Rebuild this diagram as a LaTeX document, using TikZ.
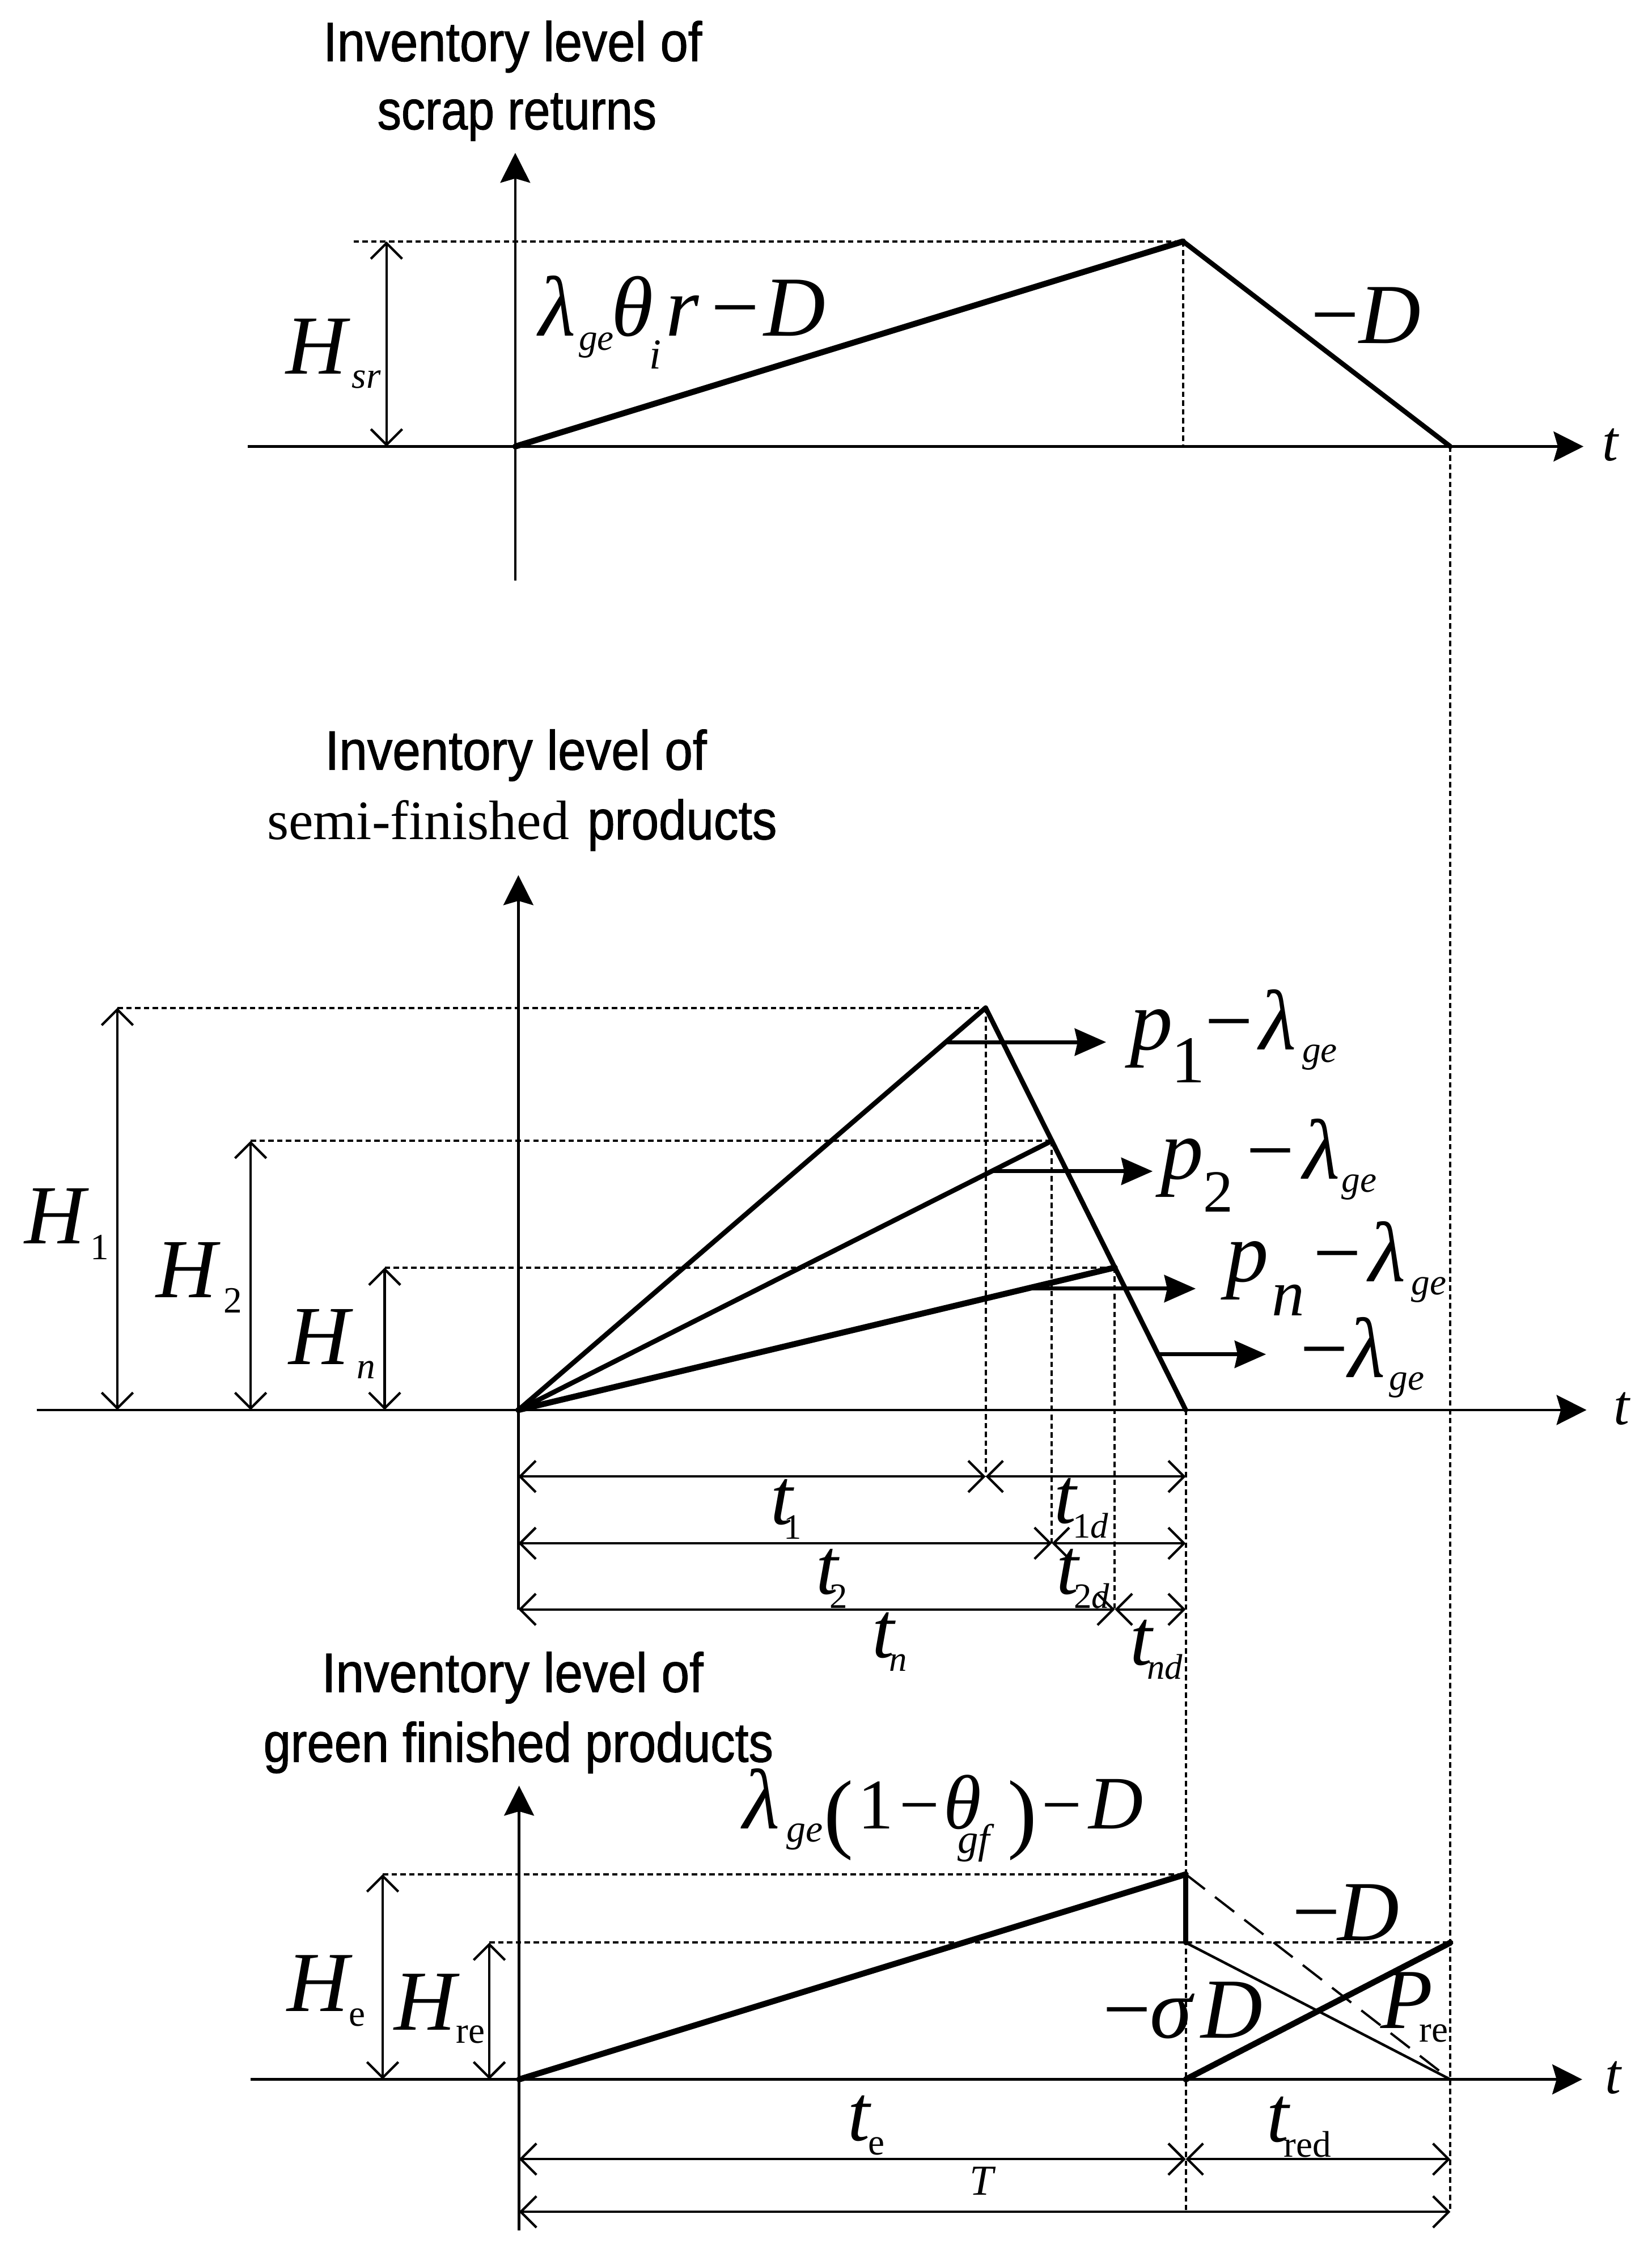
\documentclass[tikz,border=0pt]{standalone}
\usepackage{fontspec}
\setmainfont{Liberation Serif}
\setsansfont{Liberation Sans}
\newfontfamily\ttlfont[FakeBold=1.2]{Liberation Sans}
\usetikzlibrary{arrows.meta}
\newcommand\pc[3]{\makebox[0pt][l]{\hspace*{#1pt}\raisebox{#2pt}{#3}}}
\newcommand\fb{\fontsize{60}{64}\selectfont}
\newcommand\fh{\fontsize{59}{62}\selectfont}
\newcommand\fm{\fontsize{50}{54}\selectfont}
\newcommand\fl{\fontsize{60}{64}\selectfont}
\newcommand\fp{\fontsize{62}{66}\selectfont}
\newcommand\ft{\fontsize{56}{60}\selectfont}
\newcommand\fs{\fontsize{26}{28}\selectfont}
\newcommand\fss{\fontsize{25}{27}\selectfont}
\newcommand\ttl[2]{\resizebox{#1pt}{\height}{\ttlfont\fontsize{39}{42}\selectfont #2}}
\tikzset{
 axis/.style={line width=1.8pt},
 axarrow/.style={-{Stealth[length=21pt,width=21pt,inset=3pt]}},
 dotln/.style={line width=1.6pt, dash pattern=on 3.8pt off 2.4pt},
 longdash/.style={line width=1.6pt, dash pattern=on 17pt off 9pt},
 thickln/.style={line width=4.2pt, line cap=round},
 medln/.style={line width=3.4pt, line cap=round},
 thinln/.style={line width=1.8pt},
 dimar/.style={line width=1.7pt, {Straight Barb[length=11pt,width=22pt]}-{Straight Barb[length=11pt,width=22pt]}},
 rarrow/.style={line width=2.8pt, -{Stealth[length=22pt,width=19pt,inset=2pt]}},
 lbl/.style={anchor=base west, inner sep=0pt, outer sep=0pt},
}
\begin{document}
\begin{tikzpicture}[x=1pt,y=-1pt]
\useasboundingbox (0,0) rectangle (1160,1578.4);
% ---------------- panel 1 ----------------
\coordinate (O1) at (361.8,313.5);
\coordinate (Y1b) at (361.8,407.6);
\coordinate (Y1t) at (361.8,107.3);
\coordinate (X1l) at (174,313.5);
\coordinate (X1r) at (1111.9,313.5);
\coordinate (A1) at (830.7,169.5);
\coordinate (A1b) at (830.7,313.5);
\coordinate (E1) at (1018.4,313.5);
\coordinate (D1l) at (248.3,169.5);
\coordinate (Hs1) at (271.4,169.5);
\coordinate (Hs0) at (271.4,313.5);
\coordinate (Vbot) at (1018.4,1553);
\draw[axis,axarrow] (X1l) -- (X1r);
\draw[axis,axarrow] (Y1b) -- (Y1t);
\draw[dotln] (D1l) -- (A1);
\draw[dotln] (A1) -- (A1b);
\draw[dotln] (E1) -- (Vbot);
\draw[thickln] (O1) -- (A1);
\draw[medln] (A1) -- (E1);
\draw[dimar] (Hs1) -- (Hs0);
\node[lbl] (t1a) at (227,42.9) {\ttl{266}{Inventory level of}};
\node[lbl] (t1b) at (265,90.8) {\ttl{196}{scrap returns}};
\node[lbl] (ax1) at (1125,323.5) {\fontsize{40}{42}\selectfont\itshape t};
\node[lbl] (hsr) at (200.5,262.4) {\pc{0}{0}{\fh\itshape H}\pc{46.2}{-10}{\fs\itshape sr}};
\node[lbl] (rate1) at (378,236) {\pc{0}{0}{\fl\itshape λ}\pc{28}{-10}{\fs\itshape ge}\pc{51}{0}{\fb\itshape θ}\pc{77.6}{-23}{\fontsize{30}{30}\selectfont\itshape i}\pc{89}{0}{\fb\itshape r}\pc{121}{0}{\fb −}\pc{158}{0}{\fb\itshape D}};
\node[lbl] (mD1) at (920,241) {\pc{0}{0}{\fb −}\pc{34}{0}{\fb\itshape D}};
% ---------------- panel 2 ----------------
\coordinate (O2) at (364,990);
\coordinate (Y2b) at (364,1130);
\coordinate (Y2t) at (364,614.5);
\coordinate (X2l) at (25.7,990);
\coordinate (X2r) at (1114,990);
\coordinate (P1) at (692.1,707.6);
\coordinate (P2) at (738.6,801);
\coordinate (Pn) at (782.8,890);
\coordinate (E2) at (832.6,990);
\coordinate (L1) at (82.4,707.6);
\coordinate (L2) at (176,801);
\coordinate (Ln) at (270.1,890);
\coordinate (L1b) at (82.4,990);
\coordinate (L2b) at (176,990);
\coordinate (Lnb) at (270.1,990);
\coordinate (T1a) at (364,1036.7);
\coordinate (T1m) at (692.1,1036.7);
\coordinate (T1e) at (832.6,1036.7);
\coordinate (T2a) at (364,1083.6);
\coordinate (T2m) at (738.6,1083.6);
\coordinate (T2e) at (832.6,1083.6);
\coordinate (T3a) at (364,1130);
\coordinate (T3m) at (782.8,1130);
\coordinate (T3e) at (832.6,1130);
\coordinate (E2bot) at (832.6,1553);
\coordinate (R1a) at (664.1,731.7);
\coordinate (R1b) at (776.7,731.7);
\coordinate (R2a) at (696.2,822.4);
\coordinate (R2b) at (809.4,822.4);
\coordinate (R3a) at (720.8,904.8);
\coordinate (R3b) at (839.6,904.8);
\coordinate (R4a) at (813.1,950.9);
\coordinate (R4b) at (889,950.9);
\draw[axis,axarrow] (X2l) -- (X2r);
\draw[axis,axarrow] (Y2b) -- (Y2t);
\draw[dotln] (L1) -- (P1);
\draw[dotln] (L2) -- (P2);
\draw[dotln] (Ln) -- (Pn);
\draw[dotln] (P1) -- (T1m);
\draw[dotln] (P2) -- (T2m);
\draw[dotln] (Pn) -- (T3m);
\draw[dotln] (E2) -- (E2bot);
\draw[medln] (O2) -- (P1);
\draw[medln] (O2) -- (P2);
\draw[thickln] (O2) -- (Pn);
\draw[medln] (P1) -- (E2);
\draw[dimar] (L1) -- (L1b);
\draw[dimar] (L2) -- (L2b);
\draw[dimar] (Ln) -- (Lnb);
\draw[dimar] (T1a) -- (T1m);
\draw[dimar] (T1m) -- (T1e);
\draw[dimar] (T2a) -- (T2m);
\draw[dimar] (T2m) -- (T2e);
\draw[dimar] (T3a) -- (T3m);
\draw[dimar] (T3m) -- (T3e);
\draw[rarrow] (R1a) -- (R1b);
\draw[rarrow] (R2a) -- (R2b);
\draw[rarrow] (R3a) -- (R3b);
\draw[rarrow] (R4a) -- (R4b);
\node[lbl] (t2a) at (228.3,540.4) {\ttl{268}{Inventory level of}};
\node[lbl] (t2b) at (187,589.3) {\pc{0}{0}{\fontsize{39}{42}\selectfont semi-finished}\pc{225}{0}{\ttl{133}{products}}};
\node[lbl] (ax2) at (1133,1000) {\fontsize{40}{42}\selectfont\itshape t};
\node[lbl] (h1) at (16.8,873.3) {\pc{0}{0}{\fh\itshape H}\pc{46}{-11}{\fs 1}};
\node[lbl] (h2) at (109,911) {\pc{0}{0}{\fh\itshape H}\pc{47.4}{-10.8}{\fs 2}};
\node[lbl] (hn) at (202.5,958) {\pc{0}{0}{\fh\itshape H}\pc{47.5}{-10}{\fs\itshape n}};
\node[lbl] (rp1) at (793,737) {\pc{0}{0}{\fb\itshape p}\pc{29}{-23}{\fontsize{47}{47}\selectfont 1}\pc{52.5}{0}{\fb −}\pc{91}{0}{\fl\itshape λ}\pc{121}{-9}{\fs\itshape ge}};
\node[lbl] (rp2) at (814.5,828) {\pc{0}{0}{\fb\itshape p}\pc{30}{-23}{\fontsize{42}{42}\selectfont 2}\pc{60}{0}{\fb −}\pc{100}{0}{\fl\itshape λ}\pc{127}{-9}{\fs\itshape ge}};
\node[lbl] (rpn) at (860.5,900) {\pc{0}{0}{\fb\itshape p}\pc{32}{-23.6}{\fontsize{46}{46}\selectfont\itshape n}\pc{61}{0}{\fb −}\pc{100}{0}{\fl\itshape λ}\pc{130}{-9}{\fs\itshape ge}};
\node[lbl] (rl) at (912.5,967) {\pc{0}{0}{\fb −}\pc{34}{0}{\fl\itshape λ}\pc{62.5}{-9}{\fs\itshape ge}};
\node[lbl] (tt1) at (540.7,1070.4) {\pc{0}{0}{\ft\itshape t}\pc{9}{-10}{\fss 1}};
\node[lbl] (tt1d) at (739.7,1069.6) {\pc{0}{0}{\ft\itshape t}\pc{13}{-10}{\fss 1\textit{d}}};
\node[lbl] (tt2) at (572.7,1119) {\pc{0}{0}{\ft\itshape t}\pc{9.5}{-10}{\fss 2}};
\node[lbl] (tt2d) at (741.5,1119) {\pc{0}{0}{\ft\itshape t}\pc{12}{-10}{\fss 2\textit{d}}};
\node[lbl] (ttn) at (611.8,1163.8) {\pc{0}{0}{\ft\itshape t}\pc{12}{-9.5}{\fss\itshape n}};
\node[lbl] (ttnd) at (793,1169) {\pc{0}{0}{\ft\itshape t}\pc{12}{-10}{\fss\itshape nd}};
% ---------------- panel 3 ----------------
\coordinate (O3) at (364.5,1460);
\coordinate (Y3b) at (364.5,1566);
\coordinate (Y3t) at (364.5,1253.8);
\coordinate (X3l) at (176,1460);
\coordinate (X3r) at (1111,1460);
\coordinate (Q) at (832.6,1316);
\coordinate (Qd) at (832.6,1364);
\coordinate (Qb) at (832.6,1460);
\coordinate (F) at (1018.4,1460);
\coordinate (Fu) at (1018.4,1364);
\coordinate (He1) at (268.7,1316);
\coordinate (He0) at (268.7,1460);
\coordinate (Hr1) at (343.6,1364);
\coordinate (Hr0) at (343.6,1460);
\coordinate (U1a) at (364.5,1516);
\coordinate (U1m) at (832.6,1516);
\coordinate (U1e) at (1018.4,1516);
\coordinate (U2a) at (364.5,1553);
\coordinate (U2e) at (1018.4,1553);
\draw[axis,axarrow] (X3l) -- (X3r);
\draw[axis,axarrow] (Y3b) -- (Y3t);
\draw[dotln] (He1) -- (Q);
\draw[dotln] (Hr1) -- (Fu);
\draw[thickln] (O3) -- (Q);
\draw[medln] (Q) -- (Qd);
\draw[thinln] (Qd) -- (F);
\draw[longdash] (Q) -- (F);
\draw[thickln] (Qb) -- (Fu);
\draw[dimar] (He1) -- (He0);
\draw[dimar] (Hr1) -- (Hr0);
\draw[dimar] (U1a) -- (U1m);
\draw[dimar] (U1m) -- (U1e);
\draw[dimar] (U2a) -- (U2e);
\node[lbl] (t3a) at (226,1188) {\ttl{268}{Inventory level of}};
\node[lbl] (t3b) at (185,1237) {\ttl{358}{green finished products}};
\node[lbl] (ax3) at (1127,1470) {\fontsize{40}{42}\selectfont\itshape t};
\node[lbl] (rate3) at (521,1284) {\pc{0}{0}{\fl\itshape λ}\pc{31}{-9}{\fontsize{27}{29}\selectfont\itshape ge}\pc{57}{-9}{\fp(}\pc{81}{0}{\fm 1}\pc{110}{0}{\fm −}\pc{141}{0}{\fontsize{54}{56}\selectfont\itshape θ}\pc{151}{-17}{\fontsize{29}{31}\selectfont\itshape gf}\pc{186}{-9}{\fp)}\pc{210}{0}{\fm −}\pc{243}{0}{\fontsize{53}{56}\selectfont\itshape D}};
\node[lbl] (mD3) at (907,1362.5) {\pc{0}{0}{\fb −}\pc{31.7}{0}{\fb\itshape D}};
\node[lbl] (msD) at (774,1430.9) {\pc{0}{0}{\fb −}\pc{33}{0}{\fb\itshape σ}\pc{68.9}{0}{\fb\itshape D}};
\node[lbl] (pre) at (969,1424) {\pc{0}{0}{\fb\itshape P}\pc{27}{-9.7}{\fs re}};
\node[lbl] (he) at (201,1412) {\pc{0}{0}{\fb\itshape H}\pc{43.4}{-10.7}{\fs e}};
\node[lbl] (hre) at (276.5,1425.3) {\pc{0}{0}{\fb\itshape H}\pc{43.3}{-9}{\fs re}};
\node[lbl] (te) at (595,1503) {\pc{0}{0}{\ft\itshape t}\pc{14}{-10}{\fs e}};
\node[lbl] (tred) at (889,1503.8) {\pc{0}{0}{\ft\itshape t}\pc{12}{-10.8}{\fs red}};
\node[lbl] (tT) at (681,1541) {\fontsize{30}{32}\selectfont\itshape T};
\end{tikzpicture}
\end{document}
